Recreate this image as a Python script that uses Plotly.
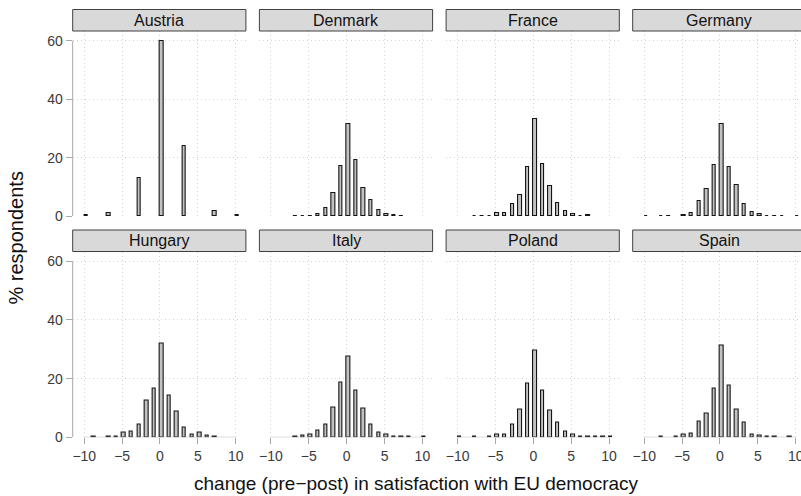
import plotly.graph_objects as go

# ---- data: % of respondents by change score, per country ----
countries = ["Austria", "Denmark", "France", "Germany",
             "Hungary", "Italy", "Poland", "Spain"]

change_austria = [-10, -7, -3, 0, 3, 7, 10]
pct_austria = [0.3, 1.2, 13.0, 59.8, 23.9, 1.8, 0.3]

change_denmark = [-7, -6, -5, -4, -3, -2, -1, 0, 1, 2, 3, 4, 5, 6, 7]
pct_denmark = [0.2, 0.2, 0.2, 0.7, 2.7, 8.0, 17.3, 31.6, 19.4, 9.8, 5.6, 2.0, 0.7, 0.3, 0.2]

change_france = [-8, -7, -6, -5, -4, -3, -2, -1, 0, 1, 2, 3, 4, 5, 6, 7]
pct_france = [0.2, 0.2, 0.2, 1.0, 1.1, 4.1, 7.2, 16.9, 33.4, 17.7, 10.3, 4.5, 1.9, 0.8, 0.2, 0.3]

change_germany = [-10, -8, -7, -5, -4, -3, -2, -1, 0, 1, 2, 3, 4, 5, 6, 7, 8, 10]
pct_germany = [0.2, 0.2, 0.2, 0.6, 1.2, 5.1, 9.3, 17.5, 31.4, 17.0, 10.6, 4.2, 1.6, 0.8,
               0.2, 0.2, 0.2, 0.2]

change_hungary = [-9, -7, -6, -5, -4, -3, -2, -1, 0, 1, 2, 3, 4, 5, 6, 7]
pct_hungary = [0.3, 0.3, 0.3, 1.5, 1.9, 4.4, 12.6, 16.7, 32.1, 14.4, 8.7, 3.3, 1.0, 1.5, 0.6, 0.3]

change_italy = [-7, -6, -5, -4, -3, -2, -1, 0, 1, 2, 3, 4, 5, 6, 7, 8, 10]
pct_italy = [0.2, 0.5, 1.0, 2.4, 4.4, 10.3, 18.8, 27.4, 16.1, 9.7, 4.4, 1.7, 1.0, 0.3,
             0.2, 0.2, 0.2]

change_poland = [-10, -8, -6, -5, -4, -3, -2, -1, 0, 1, 2, 3, 4, 5, 6, 7, 8, 9, 10]
pct_poland = [0.2, 0.2, 0.3, 0.9, 1.0, 4.4, 9.6, 18.5, 29.7, 16.1, 9.3, 4.9, 1.9, 1.0,
              0.3, 0.2, 0.2, 0.2, 0.2]

change_spain = [-8, -6, -5, -4, -3, -2, -1, 0, 1, 2, 3, 4, 5, 6, 7, 9]
pct_spain = [0.2, 0.3, 1.1, 1.4, 5.5, 8.0, 16.5, 31.2, 17.5, 9.6, 4.9, 1.0, 0.7, 0.4, 0.2, 0.2]

series = [
    (change_austria, pct_austria), (change_denmark, pct_denmark),
    (change_france, pct_france), (change_germany, pct_germany),
    (change_hungary, pct_hungary), (change_italy, pct_italy),
    (change_poland, pct_poland), (change_spain, pct_spain),
]

x_ticks = [-10, -5, 0, 5, 10]
x_ticktext = ["\u221210", "\u22125", "0", "5", "10"]
y_ticks = [0, 20, 40, 60]
y_ticktext = ["0", "20", "40", "60"]

# ---- layout geometry (pixels) ----
W, H = 801, 496
FONT = "Liberation Sans, Arial, Helvetica, sans-serif"
col_left = [72.7, 259.4, 446.1, 632.7]
panel_w = 173.2
px_per_unit = 7.57
x_lo = -11.53
row_top = [31.0, 251.5]
row_bot = [216.3, 437.3]
strip_h = 21.5
y_range = [0, 63.3]

grid_col = "#d4d4d4"
grid_dash = "1px,3px"
axis_col = "#a8a8a8"
tick_font = dict(family=FONT, size=14, color="#3a3a3a")

fig = go.Figure()
layout = {}
shapes = []
annotations = []

for i, (name, (xv, yv)) in enumerate(zip(countries, series)):
    r, c = divmod(i, 4)
    k = i + 1
    xa = "x" if k == 1 else f"x{k}"
    ya = "y" if k == 1 else f"y{k}"

    fig.add_trace(go.Bar(
        x=xv, y=yv, xaxis=xa, yaxis=ya,
        width=0.45, offset=0,
        marker=dict(color="#c2c2c2", line=dict(color="#151515", width=1.1)),
        showlegend=False, hoverinfo="x+y",
    ))

    left = col_left[c]
    right_px = min(left + panel_w, W)
    x_hi = x_lo + (right_px - left) / px_per_unit
    bottom_row = r == 1
    first_col = c == 0

    layout[f"xaxis{'' if k == 1 else k}"] = dict(
        domain=[left / W, right_px / W], range=[x_lo, x_hi],
        anchor=ya, tickmode="array", tickvals=x_ticks, ticktext=x_ticktext,
        showgrid=True, gridcolor=grid_col, griddash=grid_dash, gridwidth=1,
        zeroline=False, showline=False,
        ticks="outside" if bottom_row else "", ticklen=6, tickcolor=axis_col,
        showticklabels=bottom_row, tickfont=tick_font,
        ticklabeloverflow="allow", automargin=False, fixedrange=True,
    )
    layout[f"yaxis{'' if k == 1 else k}"] = dict(
        domain=[1 - row_bot[r] / H, 1 - row_top[r] / H], range=y_range,
        anchor=xa, tickmode="array", tickvals=y_ticks, ticktext=y_ticktext,
        showgrid=True, gridcolor=grid_col, griddash=grid_dash, gridwidth=1,
        zeroline=False, showline=False,
        ticks="outside" if first_col else "", ticklen=6, tickcolor=axis_col,
        showticklabels=first_col, tickfont=tick_font,
        automargin=False, fixedrange=True,
    )

    # range-frame axis lines spanning the tick range only
    if bottom_row:
        shapes.append(dict(type="line", xref=xa, yref=ya,
                           x0=min(x_ticks), x1=max(x_ticks), y0=0, y1=0,
                           line=dict(color=axis_col, width=1)))
    if first_col:
        shapes.append(dict(type="line", xref=f"{xa} domain", yref=ya,
                           x0=0, x1=0, y0=min(y_ticks), y1=max(y_ticks),
                           line=dict(color=axis_col, width=1)))

    # strip header
    s_top = row_top[r] - strip_h
    shapes.append(dict(type="rect", xref="paper", yref="paper",
                       x0=left / W, x1=(left + panel_w) / W,
                       y0=1 - row_top[r] / H, y1=1 - s_top / H,
                       fillcolor="#d9d9d9", line=dict(color="#404040", width=1),
                       layer="above"))
    annotations.append(dict(text=name, xref="paper", yref="paper",
                            x=(left + panel_w / 2) / W,
                            y=1 - (s_top + strip_h / 2) / H,
                            showarrow=False, xanchor="center", yanchor="middle",
                            font=dict(family=FONT, size=16, color="#111111")))

annotations.append(dict(text="change (pre\u2212post) in satisfaction with EU democracy",
                        xref="paper", yref="paper", x=416 / W, y=1 - 483 / H,
                        showarrow=False, xanchor="center", yanchor="middle",
                        font=dict(family=FONT, size=19, color="#111111")))
annotations.append(dict(text="% respondents", textangle=-90,
                        xref="paper", yref="paper", x=15.5 / W, y=1 - 238 / H,
                        showarrow=False, xanchor="center", yanchor="middle",
                        font=dict(family=FONT, size=20, color="#111111")))

fig.update_layout(
    **layout,
    width=W, height=H,
    margin=dict(l=0, r=0, t=0, b=0),
    paper_bgcolor="white", plot_bgcolor="white",
    bargap=0, shapes=shapes, annotations=annotations,
    font=dict(family=FONT),
)

fig.write_html("out.html", config={"displayModeBar": False})
